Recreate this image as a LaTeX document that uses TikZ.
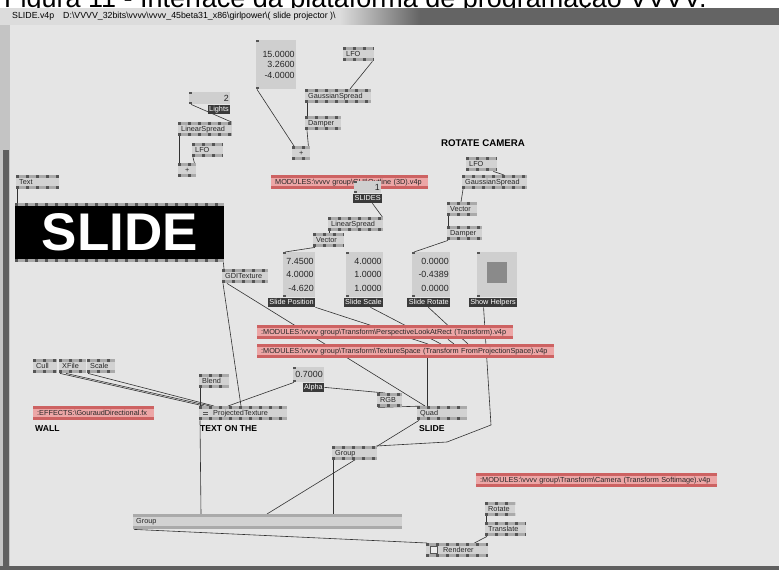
\documentclass[tikz,border=0pt]{standalone}
\usepackage{fontspec}
\setmainfont{Liberation Sans}

\definecolor{canvas}{RGB}{229,229,229}
\definecolor{nodefill}{RGB}{210,210,210}
\definecolor{nodebar}{RGB}{170,170,170}
\definecolor{pindark}{RGB}{85,85,85}
\definecolor{iofill}{RGB}{207,207,207}
\definecolor{labelfill}{RGB}{58,58,58}
\definecolor{modfill}{RGB}{236,166,166}
\definecolor{modbar}{RGB}{205,98,98}
\definecolor{wirecol}{RGB}{50,50,50}
\definecolor{titlelight}{RGB}{220,220,220}
\definecolor{titledark}{RGB}{100,100,100}
\definecolor{framegray}{RGB}{196,196,196}
\definecolor{framedark}{RGB}{95,95,95}
\definecolor{helpgray}{RGB}{138,138,138}

\newcommand\vvbs{\textbackslash}
\newcommand\vvnodefont{\fontsize{7.3}{8.5}\selectfont}
\newcommand\vvvalfont{\fontsize{8.9}{10.5}\selectfont}
\newcommand\vvvalwide{\fontsize{8.9}{13.5}\selectfont}
\newcommand\vvboldfont{\fontsize{8.6}{9}\selectfont\bfseries}
\newcommand\vvtitlefont{\fontsize{8.8}{9}\selectfont}

\pgfdeclarelayer{back}
\pgfdeclarelayer{wires}
\pgfsetlayers{back,wires,main}

\tikzset{
  pinbars/.style 2 args={path picture={
    \fill[#1] (path picture bounding box.north west) rectangle ([yshift=-3pt]path picture bounding box.north east);
    \fill[#1] (path picture bounding box.south west) rectangle ([yshift=3pt]path picture bounding box.south east);
    \draw[#2, line width=3pt, dash pattern=on 3pt off 7pt]
      ([yshift=-1.5pt]path picture bounding box.north west) -- ([yshift=-1.5pt]path picture bounding box.north east);
    \draw[#2, line width=3pt, dash pattern=on 3pt off 7pt]
      ([yshift=1.5pt]path picture bounding box.south west) -- ([yshift=1.5pt]path picture bounding box.south east);
  }},
  vnode/.style={anchor=north west, fill=nodefill, inner xsep=3pt, inner ysep=0pt,
    minimum height=14pt, text height=5.3pt, text depth=1.6pt, align=left,
    font=\vvnodefont, text=black!85, pinbars={nodebar}{pindark}},
  module/.style={vnode, fill=modfill, inner xsep=4pt, pinbars={modbar}{modbar}},
  iobox/.style={anchor=north west, fill=iofill, inner xsep=1.5pt, inner ysep=0pt,
    align=right, font=\vvvalfont, text=black!85, path picture={
      \fill[pindark] (path picture bounding box.north west) rectangle ([xshift=3pt,yshift=-2pt]path picture bounding box.north west);
      \fill[pindark] (path picture bounding box.south west) rectangle ([xshift=3pt,yshift=2pt]path picture bounding box.south west);
    }},
  iolabel/.style={anchor=north east, fill=labelfill, text=white, inner xsep=1.5pt,
    inner ysep=0pt, minimum height=9.5pt, text height=5.3pt, text depth=1.6pt,
    font=\vvnodefont},
  boldlabel/.style={anchor=west, inner sep=0pt, font=\vvboldfont},
  wire/.style={draw=wirecol, line width=0.6pt}
}

\begin{document}
\begin{tikzpicture}[x=1pt, y=-1pt]
\useasboundingbox (0,0) rectangle (779,570);

% window frame
\begin{pgfonlayer}{back}
  \fill[white] (0,0) rectangle (779,8);
  \begin{scope}
    \clip (0,0) rectangle (779,8);
    \node (figcap) [anchor=base west, inner sep=0pt, font=\fontsize{27}{27}\selectfont] at (4,7)
      {Figura 11 - Interface da plataforma de programação VVVV.};
  \end{scope}
  \fill[titlelight] (0,8) rectangle (340,25);
  \shade[left color=titlelight, right color=titledark] (340,8) rectangle (420,25);
  \fill[titledark] (420,8) rectangle (779,25);
  \fill[canvas] (10,25) rectangle (779,566);
  \fill[framegray] (0,25) rectangle (10,566);
  \fill[framedark] (3,150) rectangle (9,566);
  \fill[framedark] (0,566) rectangle (779,570);
\end{pgfonlayer}
\node (tbfile) [anchor=base west, inner sep=0pt, font=\vvtitlefont] at (12,19) {SLIDE.v4p};
\node (tbpath) [anchor=base west, inner sep=0pt, font=\vvtitlefont] at (63,19)
  {D:\vvbs VVVV\_32bits\vvbs vvvv\vvbs vvvv\_45beta31\_x86\vvbs girlpower\vvbs( slide projector )\vvbs};

% top cluster
\node (valA) [iobox, text width=37, minimum height=49] at (256,40) {15.0000\\3.2600\\-4.0000};
\node (lfoA) [vnode, text width=25] at (343,47) {LFO};
\node (gaussA) [vnode, text width=60] at (305,89) {GaussianSpread};
\node (dampA) [vnode, text width=30] at (305,116) {Damper};
\node (plusA) [vnode, text width=12, align=center] at (292,146) {+};

\node (lightsv) [iobox, text width=38, minimum height=12] at (189,92) {2};
\node (lightsl) [iolabel] at (lightsv.south east) {Lights};
\node (lspreadA) [vnode, text width=48] at (178,122) {LinearSpread};
\node (lfoB) [vnode, text width=25] at (192,143) {LFO};
\node (plusB) [vnode, text width=12, align=center] at (178,163) {+};

% camera rotation
\node (rotcam) [boldlabel, anchor=center, font=\fontsize{9.7}{10}\selectfont\bfseries] at (483,143) {ROTATE CAMERA};
\node (lfoC) [vnode, text width=25] at (466,157) {LFO};
\node (gaussB) [vnode, text width=59] at (462,175) {GaussianSpread};
\node (vecB) [vnode, text width=24] at (447,202) {Vector};
\node (dampB) [vnode, text width=29] at (447,226) {Damper};

% slide parameters
\node (mod3d) [module, text width=149] at (271,175) {\mbox{MODULES:\vvbs vvvv group\vvbs GUI\vvbs Outline (3D).v4p}};
\node (slidesv) [iobox, text width=24, minimum height=12] at (354,181) {1};
\node (slidesl) [iolabel, anchor=north] at (slidesv.south) {SLIDES};
\node (lspreadC) [vnode, text width=49] at (328,217) {LinearSpread};
\node (vecC) [vnode, text width=25] at (313,233) {Vector};

\node (posv) [iobox, text width=29, minimum height=45, font=\vvvalwide] at (283,252) {7.4500\\4.0000\\-4.620};
\node (posl) [iolabel] at (posv.south east) {Slide Position};
\node (scalev) [iobox, text width=34, minimum height=45, font=\vvvalwide] at (346,252) {4.0000\\1.0000\\1.0000};
\node (scalel) [iolabel] at (scalev.south east) {Slide Scale};
\node (rotv) [iobox, text width=35, minimum height=45, font=\vvvalwide] at (412,252) {0.0000\\-0.4389\\0.0000};
\node (rotl) [iolabel] at (rotv.south east) {Slide Rotate};
\node (helpv) [iobox, text width=37, minimum height=45] at (477,252) {};
\node (helpl) [iolabel] at (helpv.south east) {Show Helpers};
\fill[helpgray] ([xshift=10pt,yshift=-10pt]helpv.north west) rectangle ([xshift=30pt,yshift=-31pt]helpv.north west);

% text texture
\node (textA) [vnode, text width=37] at (16,175) {Text};
\node (render) [anchor=north west, fill=black, minimum width=209, minimum height=59, inner sep=0pt,
  text=white, font=\fontsize{53}{53}\selectfont\bfseries, pinbars={nodebar}{pindark}] at (15,203) {SLIDE\hspace{14pt}};
\node (gdi) [vnode, text width=40] at (222,269) {GDITexture};

\node (modpersp) [module, text width=248] at (257,325)
  {\mbox{:MODULES:\vvbs vvvv group\vvbs Transform\vvbs PerspectiveLookAtRect (Transform).v4p}};
\node (modtex) [module, text width=289] at (257,344)
  {\mbox{:MODULES:\vvbs vvvv group\vvbs Transform\vvbs TextureSpace (Transform FromProjectionSpace).v4p}};

% wall and projection
\node (cull) [vnode, text width=18] at (33,359) {Cull};
\node (xfile) [vnode, text width=21] at (59,359) {XFile};
\node (scalen) [vnode, text width=22] at (87,359) {Scale};
\node (effects) [module, text width=113] at (33,406) {\mbox{:EFFECTS:\vvbs GouraudDirectional.fx}};
\node (wall) [boldlabel] at (35,428.5) {WALL};
\node (blend) [vnode, text width=24] at (199,374) {Blend};
\node (projtex) [vnode, text width=82] at (199,406) {\hspace*{11pt}ProjectedTexture};
\draw[pindark, line width=0.6pt] ([xshift=4pt,yshift=1pt]projtex.west) -- ++(5pt,0pt)
  ([xshift=4pt,yshift=-1pt]projtex.west) -- ++(5pt,0pt);
\node (textonthe) [boldlabel] at (200,428.5) {TEXT ON THE};
\node (alphav) [iobox, text width=28, minimum height=15] at (293,367) {0.7000};
\node (alphal) [iolabel] at (alphav.south east) {Alpha};
\node (rgb) [vnode, text width=19] at (377,393) {RGB};
\node (quad) [vnode, text width=44] at (417,406) {Quad};
\node (slidelbl) [boldlabel] at (419,428.5) {SLIDE};
\node (groupA) [vnode, text width=39] at (332,446) {Group};

% camera and renderer
\node (modcam) [module, text width=233] at (476,473)
  {\mbox{:MODULES:\vvbs vvvv group\vvbs Transform\vvbs Camera (Transform Softimage).v4p}};
\node (rotate) [vnode, text width=24] at (485,502) {Rotate};
\node (translate) [vnode, text width=35] at (485,522) {Translate};
\node (groupB) [vnode, text width=263, minimum height=15, pinbars={nodebar}{nodebar}] at (133,514) {Group};
\node (renderer) [vnode, text width=56] at (426,543) {\hspace*{14pt}Renderer};
\draw[pindark, fill=white!85!gray, line width=0.5pt] ([xshift=4pt,yshift=-3.5pt]renderer.west) rectangle ++(7pt,7pt);

\begin{pgfonlayer}{wires}
\path [wire] ([xshift=1pt]valA.south west) edge ([xshift=2pt]plusA.north west)
      ([xshift=-2pt]lfoA.south east) edge ([xshift=45pt]gaussA.north west)
      ([xshift=2pt]gaussA.south west) edge ([xshift=2pt]dampA.north west)
      ([xshift=2pt]dampA.south west) edge ([xshift=-2pt]plusA.north east)
      ([xshift=2pt]lightsv.south west) edge ([xshift=-1pt]lspreadA.north east)
      ([xshift=1pt]lspreadA.south west) edge ([xshift=1pt]plusB.north west)
      ([xshift=1pt]lfoB.south west) edge ([xshift=-2pt]plusB.north east)
      ([xshift=-4pt]lfoC.south east) edge ([xshift=42pt]gaussB.north west)
      ([xshift=1pt]gaussB.south west) edge ([xshift=14pt]vecB.north west)
      ([xshift=1pt]vecB.south west) edge ([xshift=1pt]dampB.north west)
      ([xshift=1pt]dampB.south west) edge ([xshift=2pt]rotv.north west)
      ([xshift=-10pt]slidesl.south east) edge ([xshift=-1pt]lspreadC.north east)
      ([xshift=1pt]lspreadC.south west) edge ([xshift=16pt]vecC.north west)
      ([xshift=2pt]vecC.south west) edge ([xshift=2pt]posv.north west)
      ([xshift=1pt]textA.south west) edge ([xshift=2pt]render.north west)
      ([xshift=-1pt]render.south east) edge ([xshift=2pt]gdi.north west)
      ([xshift=1pt]gdi.south west) edge ([xshift=42pt]projtex.north west)
      ([xshift=5pt]gdi.south west) edge ([xshift=8pt]quad.north west)
      (posl.south east) edge ([xshift=171pt]modtex.north west)
      ([xshift=-13pt]scalel.south east) edge ([xshift=184pt]modtex.north west)
      ([xshift=191pt]modpersp.south west) edge ([xshift=197pt]modtex.north west)
      ([xshift=-22pt]rotl.south east) edge ([xshift=211pt]modtex.north west)
      ([xshift=170pt]modtex.south west) edge ([xshift=10pt]quad.north west)
      ([xshift=1pt]alphav.south west) edge ([xshift=29pt]projtex.north west)
      (alphal.east) edge ([xshift=8pt]rgb.north west)
      ([xshift=1pt]rgb.south west) edge ([xshift=8pt]quad.north west)
      ([xshift=2pt]quad.south west) edge ([xshift=134pt]groupB.north west)
      ([xshift=1pt]groupA.south west) edge ([xshift=200pt]groupB.north west)
      ([xshift=1pt]projtex.south west) edge ([xshift=68pt]groupB.north west)
      ([xshift=1pt]blend.south west) edge ([xshift=1pt]projtex.north west)
      ([xshift=1pt]xfile.south west) edge ([xshift=5pt]projtex.north west)
      ([xshift=7pt]xfile.south west) edge ([xshift=11pt]projtex.north west)
      ([xshift=1pt]scalen.south west) edge ([xshift=15pt]projtex.north west)
      ([xshift=1pt]groupB.south west) edge ([xshift=1pt]renderer.north west)
      ([xshift=2pt]translate.south west) edge ([xshift=-14pt]renderer.north east)
      ([xshift=1pt]rotate.south west) edge ([xshift=1pt]translate.north west);
\draw [wire] ([xshift=15pt]helpl.south west) -- (491,425) -- (447,442) -- ([xshift=-1pt]groupA.north east);
\end{pgfonlayer}
\end{tikzpicture}
\end{document}
